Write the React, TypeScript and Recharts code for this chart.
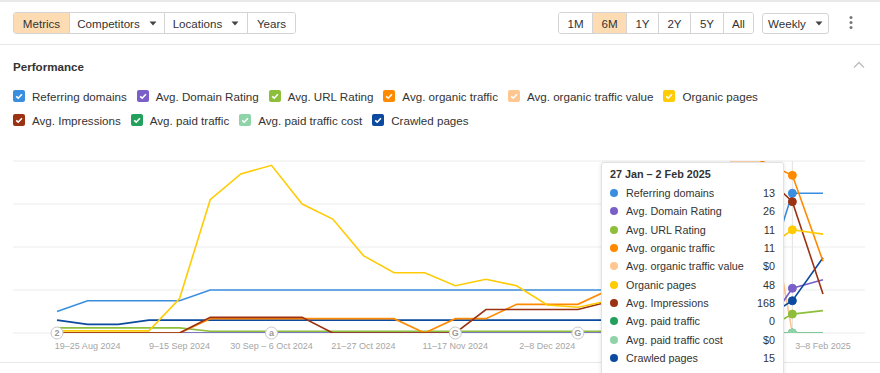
import React from "react";
import {
  LineChart,
  Line,
  XAxis,
  YAxis,
  CartesianGrid,
  Tooltip,
  ReferenceDot,
} from "recharts";

const weeks = [
  "12–18 Aug 2024", "19–25 Aug 2024", "26 Aug – 1 Sep 2024", "2–8 Sep 2024",
  "9–15 Sep 2024", "16–22 Sep 2024", "23–29 Sep 2024", "30 Sep – 6 Oct 2024",
  "7–13 Oct 2024", "14–20 Oct 2024", "21–27 Oct 2024", "28 Oct – 3 Nov 2024",
  "4–10 Nov 2024", "11–17 Nov 2024", "18–24 Nov 2024", "25 Nov – 1 Dec 2024",
  "2–8 Dec 2024", "9–15 Dec 2024", "16–22 Dec 2024", "23–29 Dec 2024",
  "30 Dec – 5 Jan 2025", "6–12 Jan 2025", "13–19 Jan 2025", "20–26 Jan 2025",
  "27 Jan – 2 Feb 2025", "3–8 Feb 2025",
];

// Labels visible in the reference (the ones under the tooltip are hidden there)
const tickWeeks = [
  "19–25 Aug 2024", "9–15 Sep 2024", "30 Sep – 6 Oct 2024", "21–27 Oct 2024",
  "11–17 Nov 2024", "2–8 Dec 2024", "3–8 Feb 2025",
];

const referringDomains = [2, 3, 3, 3, 3, 4, 4, 4, 4, 4, 4, 4, 4, 4, 4, 4, 4, 4, 4, 4, 4, 4, 4, 4, 13, 13];
const domainRating = [0, 0, 0, 0, 0, 0, 0, 0, 0, 0, 0, 0, 0, 0, 0, 0, 0, 0, 0, 0, 0, 0, 0, 0, 26, 31];
const urlRating = [3, 3, 3, 3, 3, 1, 1, 1, 1, 1, 1, 1, 1, 1, 1, 1, 1, 1, 1, 1, 1, 1, 1, 1, 11, 13];
const organicTraffic = [0, 0, 0, 0, 0, 1, 1, 1, 1, 1, 1, 1, 0, 1, 1, 2, 2, 2, 3, 4, 5, 7, 9, 12, 11, 5];
const organicTrafficValue = [0, 0, 0, 0, 0, 0, 0, 0, 0, 0, 0, 0, 0, 0, 0, 0, 0, 0, 0, 0, 0, 0, 1, 1, 0, 0];
const organicPages = [1, 1, 1, 1, 16, 62, 74, 78, 60, 53, 36, 28, 28, 22, 25, 22, 13, 12, 15, 18, 22, 27, 32, 38, 48, 46];
const impressions = [0, 0, 0, 0, 0, 20, 20, 20, 20, 0, 0, 0, 0, 0, 30, 30, 30, 30, 40, 50, 70, 100, 150, 205, 168, 50];
const paidTraffic = [0, 0, 0, 0, 0, 0, 0, 0, 0, 0, 0, 0, 0, 0, 0, 0, 0, 0, 0, 0, 0, 0, 0, 0, 0, 0];
const paidTrafficCost = [0, 0, 0, 0, 0, 0, 0, 0, 0, 0, 0, 0, 0, 0, 0, 0, 0, 0, 0, 0, 0, 0, 0, 0, 0, 0];
const crawledPages = [6, 4, 4, 6, 6, 6, 6, 6, 6, 6, 6, 6, 6, 6, 6, 6, 6, 6, 6, 6, 6, 6, 6, 6, 15, 35];

const annotations = [
  { week: "12–18 Aug 2024", text: "2" },
  { week: "30 Sep – 6 Oct 2024", text: "a" },
  { week: "11–17 Nov 2024", text: "G" },
  { week: "9–15 Dec 2024", text: "G" },
];

type Series = { key: string; name: string; color: string; values: number[]; max: number; money?: boolean };

const series: Series[] = [
  { key: "rd", name: "Referring domains", color: "#3a8ee0", values: referringDomains, max: 16 },
  { key: "dr", name: "Avg. Domain Rating", color: "#7a5fc8", values: domainRating, max: 100 },
  { key: "ur", name: "Avg. URL Rating", color: "#8dbe3c", values: urlRating, max: 100 },
  { key: "ot", name: "Avg. organic traffic", color: "#ff8a00", values: organicTraffic, max: 12 },
  { key: "otv", name: "Avg. organic traffic value", color: "#ffc690", values: organicTrafficValue, max: 1, money: true },
  { key: "op", name: "Organic pages", color: "#ffcb05", values: organicPages, max: 80 },
  { key: "imp", name: "Avg. Impressions", color: "#9b3213", values: impressions, max: 220 },
  { key: "pt", name: "Avg. paid traffic", color: "#23a05c", values: paidTraffic, max: 1 },
  { key: "ptc", name: "Avg. paid traffic cost", color: "#8fd3a9", values: paidTrafficCost, max: 1, money: true },
  { key: "cp", name: "Crawled pages", color: "#0b4a9f", values: crawledPages, max: 80 },
];

const drawOrder = ["otv", "pt", "ptc", "ur", "dr", "rd", "cp", "ot", "imp", "op"];

const data = weeks.map((w, i) => {
  const row: Record<string, any> = { week: w };
  series.forEach((s) => (row[s.key] = s.values[i]));
  return row;
});

const FONT = 'Arial, "Liberation Sans", sans-serif';

const CheckBox = ({ color }: { color: string }) => (
  <svg width={12} height={12} style={{ display: "block", flex: "none" }}>
    <rect x={0} y={0} width={12} height={12} rx={2} fill={color} />
    <path d="M3.2 6.3 L5.2 8.2 L8.9 4.2" stroke="#fff" strokeWidth={1.6} fill="none" />
  </svg>
);

const Caret = () => (
  <svg width={8} height={5} style={{ marginLeft: 9 }}>
    <path d="M0.5 0.5 L7.5 0.5 L4 4.5 Z" fill="#444" />
  </svg>
);

const btn = (active: boolean, extra: React.CSSProperties = {}): React.CSSProperties => ({
  height: 20,
  display: "flex",
  alignItems: "center",
  justifyContent: "center",
  background: active ? "#fddcb3" : "#fff",
  borderRight: "1px solid #d4d4d4",
  color: "#333",
  fontSize: 11.6,
  boxSizing: "border-box",
  ...extra,
});

const TooltipBox = (props: any) => {
  const { active, payload, label } = props;
  if (!active || !payload || !payload.length) return null;
  const vals: Record<string, any> = {};
  payload.forEach((p: any) => (vals[p.dataKey] = p.value));
  return (
    <div
      style={{
        width: 183,
        boxSizing: "border-box",
        background: "#fff",
        border: "1px solid #e2e2e2",
        borderRadius: 3,
        boxShadow: "0 1px 4px rgba(0,0,0,0.12)",
        padding: "3px 8px 8px 8px",
        fontFamily: FONT,
        color: "#333",
        fontSize: 10.8,
      }}
    >
      <div style={{ fontWeight: "bold", lineHeight: "16px", height: 16, marginBottom: 2 }}>{label}</div>
      {series.map((s) => (
        <div key={s.key} style={{ display: "flex", alignItems: "center", height: 18.3 }}>
          <span
            style={{ width: 8, height: 8, borderRadius: 4, background: s.color, marginRight: 8, flex: "none" }}
          />
          <span style={{ flex: 1 }}>{s.name}</span>
          <span>{(s.money ? "$" : "") + vals[s.key]}</span>
        </div>
      ))}
    </div>
  );
};

const AnnotationShape = (text: string) => (p: any) => (
  <g>
    <circle cx={p.cx} cy={p.cy} r={6} fill="#fff" stroke="#c9c9c9" strokeWidth={1} />
    <text x={p.cx} y={p.cy + 3.2} textAnchor="middle" fontSize={9} fill="#999" fontFamily={FONT} fontWeight="bold">
      {text}
    </text>
  </g>
);

const legendRow1 = series.slice(0, 6);
const legendRow2 = series.slice(6);

const LegendRow = ({ items, top }: { items: Series[]; top: number }) => (
  <div style={{ position: "absolute", left: 13, top, display: "flex", alignItems: "center", height: 14 }}>
    {items.map((s) => (
      <div key={s.key} style={{ display: "flex", alignItems: "center", marginRight: 10 }}>
        <CheckBox color={s.color} />
        <span style={{ marginLeft: 7, fontSize: 11.6, color: "#333", whiteSpace: "nowrap" }}>{s.name}</span>
      </div>
    ))}
  </div>
);

export default function App() {
  return (
    <div
      style={{
        position: "absolute",
        left: 0,
        top: 0,
        width: 880,
        height: 373,
        background: "#fff",
        overflow: "hidden",
        fontFamily: FONT,
      }}
    >
      <div style={{ position: "absolute", left: 0, top: 0, width: 880, height: 2, background: "#e9e9e9" }} />
      <div style={{ position: "absolute", left: 0, top: 44, width: 880, height: 1, background: "#e8e8e8" }} />
      <div style={{ position: "absolute", left: 0, top: 362, width: 880, height: 1, background: "#e8e8e8" }} />

      {/* left toolbar */}
      <div
        style={{
          position: "absolute",
          left: 13,
          top: 12,
          height: 22,
          display: "flex",
          border: "1px solid #d4d4d4",
          borderRadius: 3,
          overflow: "hidden",
          boxSizing: "border-box",
        }}
      >
        <div style={btn(true, { width: 56 })}>Metrics</div>
        <div style={btn(false, { width: 95 })}>
          Competitors
          <Caret />
        </div>
        <div style={btn(false, { width: 83 })}>
          Locations
          <Caret />
        </div>
        <div style={btn(false, { width: 47, borderRight: "none" })}>Years</div>
      </div>

      {/* right toolbar */}
      <div
        style={{
          position: "absolute",
          left: 558,
          top: 12,
          height: 22,
          display: "flex",
          border: "1px solid #d4d4d4",
          borderRadius: 3,
          overflow: "hidden",
          boxSizing: "border-box",
        }}
      >
        <div style={btn(false, { width: 34 })}>1M</div>
        <div style={btn(true, { width: 34 })}>6M</div>
        <div style={btn(false, { width: 32 })}>1Y</div>
        <div style={btn(false, { width: 32 })}>2Y</div>
        <div style={btn(false, { width: 33 })}>5Y</div>
        <div style={btn(false, { width: 29, borderRight: "none" })}>All</div>
      </div>
      <div
        style={{
          position: "absolute",
          left: 762,
          top: 13,
          width: 67,
          height: 21,
          border: "1px solid #d4d4d4",
          borderRadius: 3,
          boxSizing: "border-box",
          display: "flex",
          alignItems: "center",
          justifyContent: "center",
          fontSize: 11.6,
          color: "#333",
        }}
      >
        Weekly
        <Caret />
      </div>
      <svg style={{ position: "absolute", left: 846, top: 14 }} width={10} height={18}>
        <circle cx={5} cy={3.5} r={1.5} fill="#777" />
        <circle cx={5} cy={8.5} r={1.5} fill="#777" />
        <circle cx={5} cy={13.5} r={1.5} fill="#777" />
      </svg>

      {/* section header */}
      <div
        style={{
          position: "absolute",
          left: 13,
          top: 59,
          fontSize: 11.6,
          fontWeight: "bold",
          color: "#333",
          lineHeight: "15px",
        }}
      >
        Performance
      </div>
      <svg style={{ position: "absolute", left: 853, top: 61 }} width={12} height={8}>
        <path d="M1 6.5 L6 1.5 L11 6.5" stroke="#bdbdbd" strokeWidth={1.4} fill="none" />
      </svg>

      <LegendRow items={legendRow1} top={89} />
      <LegendRow items={legendRow2} top={113} />

      <div style={{ position: "absolute", left: 0, top: 0 }}>
        <LineChart width={880} height={373} data={data} margin={{ top: 161, right: 15, bottom: 10, left: 13 }}>
          <CartesianGrid yAxisId="rd" horizontal vertical={false} stroke="#ececec" />
          <XAxis
            dataKey="week"
            ticks={tickWeeks}
            interval={0}
            axisLine={false}
            tickLine={false}
            padding={{ left: 44, right: 42 }}
            tick={{ fontSize: 9, fill: "#a5a5a5", fontFamily: FONT }}
            tickMargin={4}
          />
          {series.map((s) => (
            <YAxis
              key={s.key}
              yAxisId={s.key}
              hide
              domain={[0, s.max]}
              tickCount={5}
              allowDataOverflow
            />
          ))}
          <Tooltip
            defaultIndex={24}
            content={<TooltipBox />}
            position={{ x: 601, y: 162 }}
            allowEscapeViewBox={{ x: true, y: true }}
            cursor={{ stroke: "#e3e3e3", strokeWidth: 1 }}
            isAnimationActive={false}
          />
          {drawOrder.map((k) => {
            const s = series.find((x) => x.key === k)!;
            return (
              <Line
                key={s.key}
                yAxisId={s.key}
                dataKey={s.key}
                name={s.name}
                type="linear"
                stroke={s.color}
                strokeWidth={1.6}
                dot={false}
                activeDot={{ r: 4, fill: s.color, stroke: s.color, strokeWidth: 1 }}
                isAnimationActive={false}
              />
            );
          })}
          {annotations.map((a, i) => (
            <ReferenceDot
              key={i}
              x={a.week}
              y={0}
              yAxisId="rd"
              r={6}
              shape={AnnotationShape(a.text)}
            />
          ))}
        </LineChart>
      </div>
    </div>
  );
}
